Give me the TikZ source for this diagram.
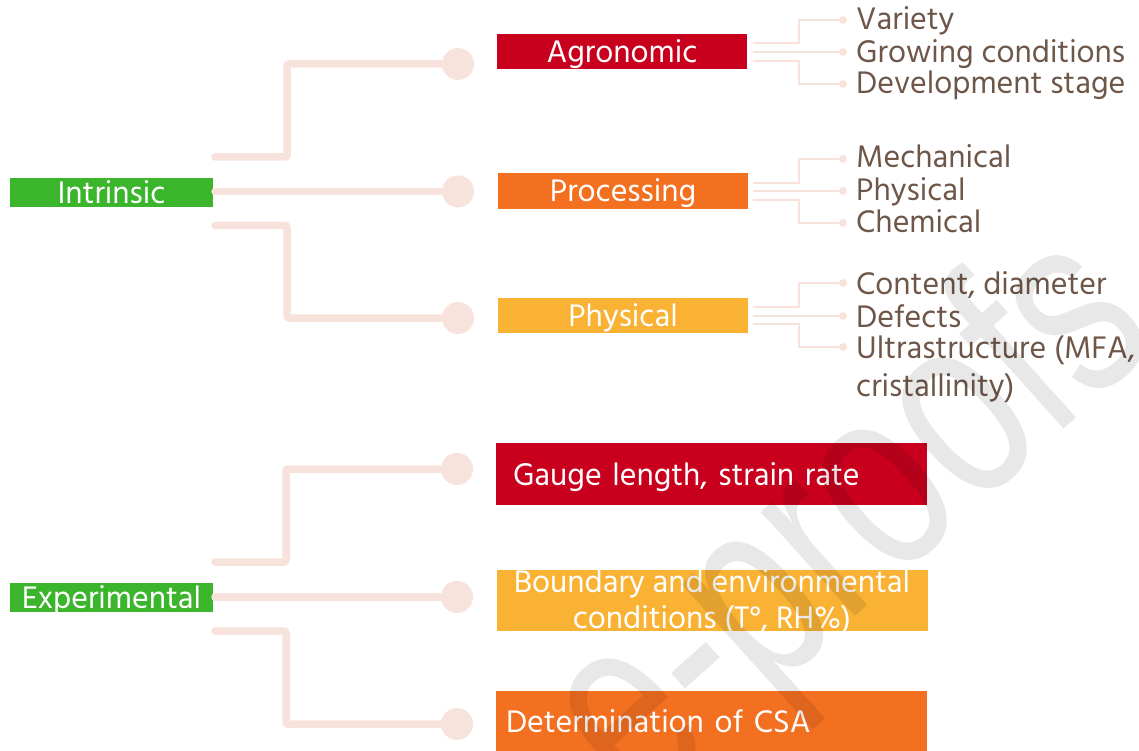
\documentclass[tikz,border=0pt]{standalone}
\usepackage{fontspec}
\setmainfont{Hind Madurai}
\newfontfamily\wmfont{Liberation Sans}[FakeStretch=0.72]
\usetikzlibrary{calc}
\definecolor{cgreen}{HTML}{3BB52C}
\definecolor{cred}{HTML}{C8001E}
\definecolor{corange}{HTML}{F47021}
\definecolor{cyellow}{HTML}{F9B233}
\definecolor{cpink}{HTML}{F7E3DC}
\definecolor{cbrown}{HTML}{6E5649}
\begin{document}
\begin{tikzpicture}[x=1pt,y=-1pt,
  lblfont/.style={font=\fontsize{32}{32}\selectfont},
  catbox/.style={lblfont, fill=cgreen, text=white, inner sep=0pt,
    minimum width=203pt, minimum height=29pt, text height=22pt, text depth=0pt},
  subbox/.style={lblfont, text=white, inner sep=0pt,
    minimum width=250pt, minimum height=35pt, text height=22pt, text depth=0pt},
  widebox/.style={lblfont, text=white, inner ysep=0pt,
    minimum width=431pt, minimum height=62pt, text height=22pt, text depth=0pt, align=left},
  thickline/.style={draw=cpink, line width=7.5pt, line cap=round, rounded corners=2pt},
  thinline/.style={draw=cpink, line width=2pt},
  bigdot/.style={circle, fill=cpink, inner sep=0pt, minimum size=32pt},
  smalldot/.style={circle, fill=cpink, inner sep=0pt, minimum size=8pt},
  item/.style={lblfont, text=cbrown, inner sep=0pt, anchor=base west, text height=22pt, text depth=6pt},
  wlbl/.style={lblfont, text=white, inner sep=0pt, anchor=base, text height=22pt, text depth=6pt},
]
\useasboundingbox (0,0) rectangle (1139,751);

% ---------- Intrinsic group ----------
\node[catbox] (intr) at (111.5,192.5) {Intrinsic};
\node[bigdot] (d1) at (458,64) {};
\node[bigdot] (d2) at (458,191.5) {};
\node[bigdot] (d3) at (458,318) {};
\coordinate (s1) at (215,157);
\coordinate (s2) at (215,191.5);
\coordinate (s3) at (215,225.5);
\draw[thickline] (s1) -- ++(72,0) |- (d1.center);
\draw[thickline] (s2) -- (d2.center);
\draw[thickline] (s3) -- ++(72,0) |- (d3.center);

\node[subbox, fill=cred] (agro) at (622,51.5) {Agronomic};
\node[subbox, fill=corange, minimum height=36pt] (proc) at (623,191) {Processing};
\node[subbox, fill=cyellow] (phys) at (623,315.5) {Physical};

% Agronomic items
\node[smalldot] (a1) at (843,20) {};
\node[smalldot] (a2) at (843,52) {};
\node[smalldot] (a3) at (843,84) {};
\coordinate (as1) at (753,43);
\coordinate (as2) at (753,52);
\coordinate (as3) at (753,61);
\draw[thinline] (as1) -- ++(46,0) |- (a1.center);
\draw[thinline] (as2) -- (a2.center);
\draw[thinline] (as3) -- ++(46,0) |- (a3.center);
\node[item] (ta1) at (856,30) {Variety};
\node[item] (ta2) at (856,63) {Growing conditions};
\node[item] (ta3) at (856,94) {Development stage};

% Processing items
\node[smalldot] (p1) at (843,159) {};
\node[smalldot] (p2) at (843,191) {};
\node[smalldot] (p3) at (843,223) {};
\coordinate (ps1) at (753,183);
\coordinate (ps2) at (753,191);
\coordinate (ps3) at (753,200);
\draw[thinline] (ps1) -- ++(46,0) |- (p1.center);
\draw[thinline] (ps2) -- (p2.center);
\draw[thinline] (ps3) -- ++(46,0) |- (p3.center);
\node[item] (tp1) at (856,168) {Mechanical};
\node[item] (tp2) at (856,201) {Physical};
\node[item] (tp3) at (856,233) {Chemical};

% Physical items
\node[smalldot] (h1) at (843,283) {};
\node[smalldot] (h2) at (843,316) {};
\node[smalldot] (h3) at (843,347) {};
\coordinate (hs1) at (753,307);
\coordinate (hs2) at (753,316);
\coordinate (hs3) at (753,324);
\draw[thinline] (hs1) -- ++(46,0) |- (h1.center);
\draw[thinline] (hs2) -- (h2.center);
\draw[thinline] (hs3) -- ++(46,0) |- (h3.center);
\node[item] (th1) at (856,294) {Content, diameter};
\node[item] (th2) at (856,327) {Defects};
\node[item] (th3) at (856,358) {Ultrastructure (MFA,};
\node[item] (th4) at (856,396) {cristallinity)};

% ---------- Experimental group ----------
\node[catbox] (exper) at (111.5,597.5) {Experimental};
\node[bigdot] (e1) at (457,469) {};
\node[bigdot] (e2) at (457,597) {};
\node[bigdot] (e3) at (457,724) {};
\coordinate (es1) at (215,562);
\coordinate (es2) at (215,597);
\coordinate (es3) at (215,631);
\draw[thickline] (es1) -- ++(71,0) |- (e1.center);
\draw[thickline] (es2) -- (e2.center);
\draw[thickline] (es3) -- ++(71,0) |- (e3.center);

\node[widebox, fill=cred, inner xsep=17pt, text width=397pt] (gauge) at (711.5,474) {Gauge length, strain rate};
\node[widebox, fill=cyellow, minimum height=61pt] (bound) at (712,600.5) {};
\node[wlbl] (tb1) at (712,592) {Boundary and environmental};
\node[wlbl] (tb2) at (712,628) {conditions (T°, RH\%)};
\node[widebox, fill=corange, minimum height=60pt, inner xsep=10pt, text width=411pt] (det) at (711.5,721) {Determination of CSA};

% ---------- watermark ----------
\node[text=black, text opacity=0.09, inner sep=0pt, rotate=42,
  font=\wmfont\fontsize{266}{266}\selectfont] (wmark) at (855,525) {e-proofs};
\end{tikzpicture}
\end{document}
